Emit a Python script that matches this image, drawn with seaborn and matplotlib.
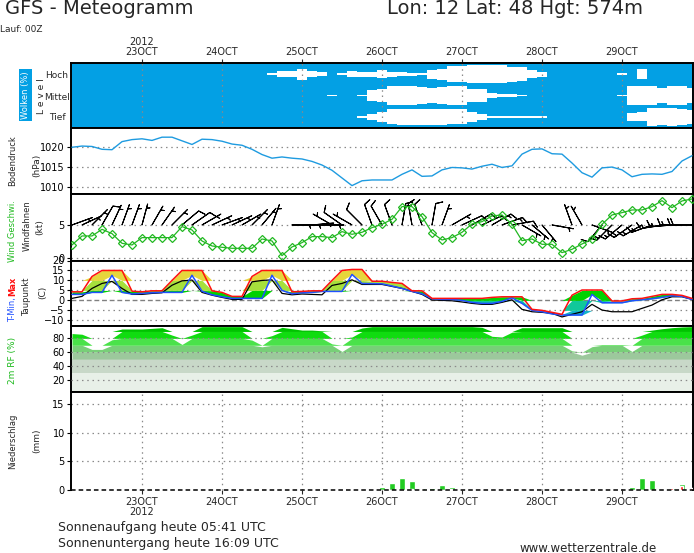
import numpy as np
import matplotlib
matplotlib.use("Agg")
import matplotlib.pyplot as plt
import seaborn as sns

# ---------------- data (3-hourly, hours since 22 Oct 2012 00 UTC) ----------------
hours = list(range(3, 190, 3))

day_hours = [24, 48, 72, 96, 120, 144, 168]
day_labels = ["23OCT", "24OCT", "25OCT", "26OCT", "27OCT", "28OCT", "29OCT"]
year_label = "2012"

pressure = [1019.9, 1020.2, 1020.1, 1019.4, 1019.3, 1021.3, 1021.8, 1022.0, 1021.6, 1022.4,
            1022.4, 1021.5, 1020.6, 1021.9, 1021.8, 1021.4, 1020.7, 1020.4, 1019.4, 1018.1,
            1017.2, 1017.5, 1017.2, 1017.0, 1016.4, 1015.5, 1014.2, 1012.3, 1010.4, 1011.6,
            1011.8, 1011.8, 1011.8, 1013.2, 1014.3, 1012.7, 1012.8, 1014.3, 1014.9, 1014.8,
            1014.5, 1015.2, 1015.7, 1014.9, 1015.3, 1018.2, 1019.4, 1019.5, 1018.3, 1018.2,
            1016.0, 1013.6, 1012.5, 1014.8, 1015.0, 1014.3, 1012.6, 1013.2, 1013.3, 1013.2,
            1013.9, 1016.5, 1017.8]

wind_speed = [2.0, 3.35, 3.35, 4.35, 3.7, 2.25, 2.0, 3.1, 3.1, 3.1,
              3.1, 4.75, 4.25, 2.6, 1.85, 1.65, 1.5, 1.5, 1.5, 2.9,
              2.6, 0.4, 1.7, 2.35, 3.25, 3.25, 3.1, 4.0, 3.6, 3.9,
              4.6, 5.1, 5.85, 7.75, 7.75, 6.25, 3.85, 2.75, 3.1, 3.9,
              5.15, 5.5, 6.35, 6.5, 5.1, 2.65, 2.9, 2.1, 2.1, 0.85,
              1.35, 2.15, 2.85, 5.1, 6.5, 6.85, 7.25, 7.25, 7.75, 8.65,
              7.6, 8.6, 8.9]

wind_dir = [70, 65, 45, 30, 25, 20, 20, 15, 30, 35,
            45, 50, 55, 60, 65, 70, 65, 60, 45, 40,
            20, 180, 90, 90, 85, 90, 300, 305, 300, 315,
            340, 330, 340, 10, 350, 340, 10, 20, 60, 65,
            60, 65, 60, 70, 80, 120, 130, 140, 100, 95,
            340, 330, 110, 220, 225, 230, 235, 240, 250, 260,
            265, 270, 270]

t_max = [4.3, 4.3, 12.0, 15.0, 15.0, 15.0, 4.6, 4.3, 4.8, 4.8,
         10.0, 15.0, 15.0, 15.0, 4.8, 4.0, 2.0, 2.0, 12.0, 15.0,
         15.0, 15.0, 4.3, 4.5, 4.8, 4.8, 10.0, 15.0, 15.5, 15.5,
         9.6, 9.6, 9.0, 8.5, 4.8, 4.8, 1.0, 1.0, 1.0, 1.0,
         1.0, 1.0, 1.5, 1.8, 1.8, 1.8, -4.5, -5.0, -6.0, -7.0,
         2.6, 5.2, 5.2, 5.2, -0.3, -0.3, 0.8, 1.0, 2.0, 3.0,
         3.0, 2.5, 1.0]

t_min = [3.0, 3.0, 4.0, 4.0, 12.6, 4.0, 3.2, 3.5, 3.8, 4.0,
         4.0, 4.0, 12.6, 4.6, 2.8, 1.8, 1.0, 1.0, 1.0, 1.0,
         12.6, 5.0, 3.3, 3.8, 4.0, 4.5, 4.5, 4.5, 13.0, 8.5,
         8.4, 8.3, 7.2, 6.0, 4.5, 3.3, 0.8, 0.5, 0.5, 0.0,
         -1.0, -1.5, -1.5, -0.5, 1.3, -1.5, -5.0, -5.7, -6.8, -7.35,
         -7.35, -7.35, 3.0, -1.2, -1.2, -1.2, -0.2, 0.3, 0.8, 1.5,
         2.3, 2.0, 0.5]

dewpoint = [1.0, 2.0, 6.0, 8.5, 9.5, 6.0, 3.0, 3.0, 3.5, 3.8,
            7.6, 9.8, 10.2, 4.0, 2.6, 1.5, 0.5, 0.5, 9.3, 10.0,
            10.3, 3.5, 2.8, 3.2, 3.0, 2.8, 7.5, 8.5, 10.3, 8.0,
            8.0, 8.0, 7.0, 6.0, 4.5, 3.0, 0.2, 0.0, -0.2, -0.8,
            -1.5, -2.0, -2.0, -1.0, 0.3, -4.5, -5.7, -6.0, -6.5, -8.3,
            -7.0, -5.7, -2.0, -4.85, -5.7, -5.7, -5.7, -4.0, -2.35, 0.3,
            1.8, 1.8, 0.5]

rel_hum = [87, 86, 64, 64, 78, 93.6, 93.6, 93.6, 94.5, 95.5,
           84.8, 71.2, 84.8, 97, 97, 97, 97, 97, 77.5, 67.8,
           84, 96, 94, 92, 92, 91, 72, 61, 82, 95,
           97, 97, 97, 97, 97, 97, 97, 97, 97, 97,
           97, 96, 83, 82, 89, 95.5, 95.5, 95.5, 95.5, 95.5,
           62, 55.6, 68, 71, 71, 71, 61, 84.8, 92, 94,
           95.5, 96.5, 97]

precip = [0, 0, 0, 0, 0, 0, 0, 0, 0, 0,
          0, 0, 0, 0, 0, 0, 0, 0, 0, 0,
          0, 0, 0, 0, 0, 0, 0, 0, 0, 0,
          0.2, 0.5, 1.2, 2.1, 1.6, 0.4, 0.4, 0.87, 0.5, 0.2,
          0.2, 0, 0, 0, 0, 0, 0, 0, 0, 0,
          0, 0, 0, 0, 0, 0, 0.5, 2.1, 1.75, 0.25,
          0.4, 1.05, 0.5]

precip_conv = [0, 0, 0, 0, 0, 0, 0, 0, 0, 0,
               0, 0, 0, 0, 0, 0, 0, 0, 0, 0,
               0, 0, 0, 0, 0, 0, 0, 0, 0, 0,
               0.1, 0, 0, 0, 0.15, 0.1, 0, 0, 0.15, 0,
               0, 0, 0, 0, 0.1, 0, 0, 0, 0, 0,
               0, 0, 0, 0, 0, 0, 0, 0, 0, 0.25,
               0.3, 0.7, 0.3]

cloud_high = [0, 0, 0, 0, 0, 0, 0, 0, 0, 0,
              0, 0, 0, 0, 0, 0, 0, 0, 0, 0,
              8, 31, 31, 51, 27, 17, 0, 8, 28, 23,
              23, 37, 23, 19, 14, 7, 42, 51, 74, 74,
              88, 88, 88, 84, 70, 65, 37, 23, 0, 0,
              0, 0, 0, 0, 0, 5, 0, 47, 0, 0,
              0, 0, 0]

cloud_mid = [0, 0, 0, 0, 0, 0, 0, 0, 0, 0,
             0, 0, 0, 0, 0, 0, 0, 0, 0, 0,
             0, 0, 0, 0, 0, 0, 5, 0, 0, 9,
             47, 65, 88, 88, 84, 79, 74, 79, 84, 84,
             65, 56, 23, 14, 14, 9, 0, 0, 0, 0,
             0, 0, 0, 0, 0, 5, 93, 93, 84, 74,
             93, 84, 74]

cloud_low = [0, 0, 0, 0, 0, 0, 0, 0, 0, 0,
             0, 0, 0, 0, 0, 0, 0, 0, 0, 0,
             0, 0, 0, 0, 0, 0, 0, 0, 0, 5,
             28, 47, 70, 74, 74, 74, 74, 74, 70, 70,
             47, 28, 9, 9, 9, 5, 5, 5, 0, 0,
             0, 0, 0, 0, 0, 0, 37, 42, 84, 79,
             84, 74, 65]

cloud_levels = ["Tief", "Mittel", "Hoch"]
barb_level = 5

# ---------------- style ----------------
sns.set_style("white")
plt.rcParams['font.family'] = ['DejaVu Sans']

W, H = 694, 553
fig = plt.figure(figsize=(W / 100, H / 100), dpi=100)
fig.patch.set_facecolor('white')


def fx(x):
    return x / W


def fy(y):
    return 1 - y / H


L, R = 71, 693
GRID = '#8a8a8a'
DOT = (0, (1.2, 3))
X0, X1 = 2.7, 189.3


def panel(top, bot):
    ax = fig.add_axes([fx(L), fy(bot), (R - L) / W, (bot - top) / H])
    for s in ax.spines.values():
        s.set_visible(True)
        s.set_color('black')
        s.set_linewidth(1.4)
    ax.set_facecolor('white')
    ax.set_xlim(X0, X1)
    ax.tick_params(axis='x', which='both', bottom=False, top=False,
                   labelbottom=False, labeltop=False)
    ax.tick_params(axis='y', left=True, length=3, width=0.8, pad=1.5,
                   labelsize=7, direction='out', colors='black')
    return ax


def hgrid(ax, vals, z=0.5):
    for v in vals:
        ax.axhline(v, color=GRID, ls=DOT, lw=0.9, zorder=z)


def vgrid(ax, z=0.5):
    for d in day_hours:
        ax.axvline(d, color=GRID, ls=DOT, lw=0.9, zorder=z)


h = np.array(hours, dtype=float)

# ---------------- clouds ----------------
ax_c = panel(63.3, 127.7)
ax_c.set_facecolor('#03a0e4')
ax_c.set_ylim(0, 3)
for i, cov in enumerate([cloud_low, cloud_mid, cloud_high]):
    c = np.array(cov, dtype=float) / 200.0
    ax_c.fill_between(h, i + 0.5 - c, i + 0.5 + c, step='mid', color='white', lw=0, zorder=1)
vgrid(ax_c, z=3)
ax_c.set_yticks([])
ax_c.xaxis.tick_top()
ax_c.set_xticks(day_hours)
ax_c.set_xticklabels([year_label + "\n" + day_labels[0]] + day_labels[1:])
ax_c.tick_params(axis='x', top=True, bottom=False, labeltop=True, labelbottom=False,
                 length=3, width=0.8, pad=1.5, labelsize=7)
for lbl in ax_c.get_xticklabels():
    lbl.set_linespacing(1.05)
for name, yy in zip(cloud_levels, [117, 97, 76]):
    fig.text(fx(57), fy(yy), name, fontsize=6.5, ha='center', va='center')
fig.text(fx(25.5), fy(95), "Wolken (%)", fontsize=6, color='white', rotation=90,
         ha='center', va='center',
         bbox=dict(boxstyle='square,pad=0.25', fc='#03a0e4', ec='none'))
fig.text(fx(41), fy(96), "L e v e l", fontsize=6.5, rotation=90, ha='center', va='center')

# ---------------- pressure ----------------
ax_p = panel(127.7, 194.3)
ax_p.set_ylim(1008.25, 1024.75)
ax_p.set_yticks([1010, 1015, 1020])
hgrid(ax_p, [1010, 1015, 1020])
sns.lineplot(x=hours, y=pressure, ax=ax_p, color='#1e9be0', linewidth=1.0, zorder=3)
ax_p.set_xlim(X0, X1)
ax_p.set_xlabel(''); ax_p.set_ylabel('')
fig.text(fx(13), fy(161), "Bodendruck", fontsize=6, rotation=90, ha='center', va='center')
fig.text(fx(37), fy(165), "(hPa)", fontsize=6.5, rotation=90, ha='center', va='center')

# ---------------- wind ----------------
ax_w = panel(194.3, 260.5)
ax_w.set_ylim(-0.33, 9.6)
ax_w.set_yticks([0, 5])
hgrid(ax_w, [0, 5])
spd = np.array(wind_speed)
rad = np.deg2rad(np.array(wind_dir, dtype=float))
kt = spd * 2.0
u = -kt * np.sin(rad)
v = -kt * np.cos(rad)
ax_w.barbs(h, np.full(len(h), barb_level), u, v, length=5.6, linewidth=0.75, color='black',
           sizes=dict(emptybarb=0.0, spacing=0.14, height=0.3, width=0.25), zorder=3)
sns.lineplot(x=hours, y=wind_speed, ax=ax_w, color='#22b822', linewidth=0.9,
             marker='D', markersize=3.6, markerfacecolor='none',
             markeredgecolor='#22b822', markeredgewidth=0.9, zorder=4)
ax_w.set_xlim(X0, X1)
ax_w.set_xlabel(''); ax_w.set_ylabel('')
fig.text(fx(13), fy(231), "Wind Geschwi.", fontsize=6, rotation=90, ha='center', va='center',
         color='#1fba1f')
fig.text(fx(27), fy(226), "Windfahnen", fontsize=6, rotation=90, ha='center', va='center')
fig.text(fx(40), fy(227), "(kt)", fontsize=6.5, rotation=90, ha='center', va='center')

# ---------------- temperature ----------------
ax_t = panel(260.5, 326.3)
ax_t.set_ylim(-13, 20)
ax_t.set_yticks([-10, -5, 0, 5, 10, 15, 20])
hgrid(ax_t, [-10, -5, 5, 10, 15])
ax_t.axhline(0, color='#808080', ls=(0, (3.5, 2)), lw=1.0, zorder=0.6)
tmx = np.array(t_max)
tmn = np.array(t_min)
bands = [(-40, -5, '#14b4c8'), (-5, 0, '#10c89a'), (0, 5, '#00d200'),
         (5, 10, '#a6e03c'), (10, 40, '#e6d63c')]
for lo, hi, col in bands:
    ax_t.fill_between(h, np.clip(tmn, lo, hi), np.clip(tmx, lo, hi), color=col, lw=0, zorder=1)
sns.lineplot(x=hours, y=dewpoint, ax=ax_t, color='black', linewidth=0.9, zorder=3)
sns.lineplot(x=hours, y=t_min, ax=ax_t, color='#2050ff', linewidth=1.1, zorder=4)
sns.lineplot(x=hours, y=t_max, ax=ax_t, color='#ff1010', linewidth=1.1, zorder=4)
ax_t.set_xlim(X0, X1)
ax_t.set_xlabel(''); ax_t.set_ylabel('')
fig.text(fx(13), fy(310), "T-Min,", fontsize=6, rotation=90, ha='center', va='center',
         color='#2050ff')
fig.text(fx(13), fy(286), "Max", fontsize=6, rotation=90, ha='center', va='center',
         color='#ff1010', fontweight='bold')
fig.text(fx(27), fy(297), "Taupunkt", fontsize=6, rotation=90, ha='center', va='center')
fig.text(fx(43), fy(292), "(C)", fontsize=6.5, rotation=90, ha='center', va='center')

# ---------------- relative humidity ----------------
ax_r = panel(326.3, 391.5)
ax_r.set_ylim(3, 97.5)
ax_r.set_yticks([20, 40, 60, 80])
rh = np.array(rel_hum, dtype=float)
rh_bands = [(0, 30, '#e8f0e8'), (30, 50, '#c8d8c8'), (50, 60, '#9cc89c'),
            (60, 70, '#78cf78'), (70, 80, '#4ae24a'), (80, 90, '#10dc10'),
            (90, 100, '#00c400')]
for lo, hi, col in rh_bands:
    ax_r.fill_between(h, lo, np.clip(rh, lo, hi), color=col, lw=0, zorder=1)
hgrid(ax_r, [20, 40, 60, 80], z=3)
fig.text(fx(13), fy(360), "2m RF (%)", fontsize=6.5, rotation=90, ha='center', va='center',
         color='#1fba1f')

# ---------------- precipitation ----------------
ax_n = panel(391.5, 490)
ax_n.set_ylim(0, 17.15)
ax_n.set_yticks([0, 5, 10, 15])
hgrid(ax_n, [5, 10, 15])
vgrid(ax_n)
ax_n.bar(h, precip, width=1.8, color='#22cc22', zorder=2)
ax_n.bar(h, precip_conv, width=0.9, color='#ff1a1a', zorder=3)
ax_n.spines['bottom'].set_visible(False)
ax_n.axhline(0, color='black', ls=(0, (3, 2)), lw=1.1, zorder=5, clip_on=False)
ax_n.set_xticks(day_hours)
ax_n.set_xticklabels([day_labels[0] + "\n" + year_label] + day_labels[1:])
ax_n.tick_params(axis='x', bottom=True, labelbottom=True, length=3, width=0.8,
                 pad=2, labelsize=7)
for lbl in ax_n.get_xticklabels():
    lbl.set_linespacing(1.0)
fig.text(fx(13), fy(441), "Niederschlag", fontsize=6, rotation=90, ha='center', va='center')
fig.text(fx(37), fy(441), "(mm)", fontsize=6.5, rotation=90, ha='center', va='center')

# ---------------- header / footer texts ----------------
fig.text(fx(5), fy(9), "GFS - Meteogramm", fontsize=14, ha='left', va='center')
fig.text(fx(387), fy(9), "Lon: 12 Lat: 48 Hgt: 574m", fontsize=14, ha='left', va='center')
fig.text(fx(0), fy(30), "Lauf: 00Z", fontsize=6.5, ha='left', va='center')
fig.text(fx(58), fy(527), "Sonnenaufgang heute 05:41 UTC", fontsize=9, ha='left', va='center')
fig.text(fx(58), fy(544), "Sonnenuntergang heute 16:09 UTC", fontsize=9, ha='left', va='center')
fig.text(fx(520), fy(548), "www.wetterzentrale.de", fontsize=8.5, ha='left', va='center')

fig.savefig("out.png", dpi=100, facecolor='white')
